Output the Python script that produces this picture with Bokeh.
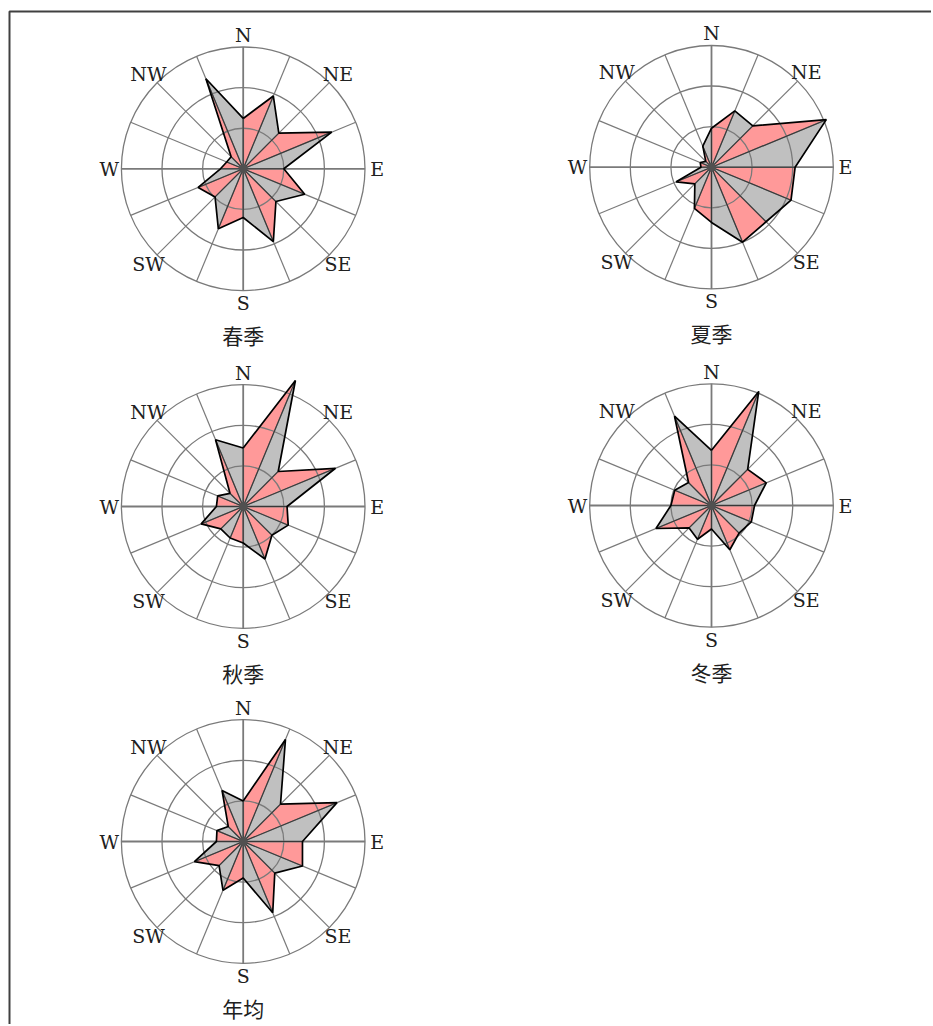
import numpy as np
from bokeh.plotting import figure
from bokeh.models import Range1d
from bokeh.embed import file_html
from bokeh.resources import INLINE
from bokeh.core.properties import value

# ---------------- data (wind direction frequency, %) ----------------
directions = ["N", "NNE", "NE", "ENE", "E", "ESE", "SE", "SSE",
              "S", "SSW", "SW", "WSW", "W", "WNW", "NW", "NNW"]
spring = [6.2, 9.7, 6.2, 11.8, 5.0, 8.2, 5.7, 9.7, 6.0, 8.0, 4.9, 6.0, 2.8, 2.2, 2.1, 12.0]
summer = [4.8, 7.5, 7.2, 15.3, 10.3, 10.6, 9.5, 10.0, 6.8, 5.5, 2.9, 4.7, 1.3, 1.5, 1.0, 2.8]
autumn = [7.2, 16.8, 6.1, 12.3, 5.4, 6.0, 5.0, 7.0, 4.5, 4.2, 3.9, 5.6, 3.3, 3.4, 2.3, 8.9]
winter = [6.8, 15.2, 6.3, 7.3, 5.3, 5.3, 4.8, 5.9, 2.9, 4.5, 3.9, 7.4, 5.0, 4.9, 4.0, 11.9]
annual = [5.0, 13.6, 6.5, 12.5, 7.3, 7.9, 5.5, 9.5, 4.5, 6.5, 4.2, 6.5, 3.3, 3.5, 2.6, 6.8]
titles = ["春季", "夏季", "秋季", "冬季", "年均"]
ring_levels = [5, 10, 15]
compass_labels = ["N", "NE", "E", "SE", "S", "SW", "W", "NW"]

# ---------------- layout ----------------
W, H = 931, 1024
PX_PER_UNIT = 8.12          # pixels per 1 % frequency
# centres in data coords (x right, y up); page origin at top-left
centers = [(242.7, H - 168.3), (711.0, H - 166.7), (242.7, H - 506.0),
           (711.0, H - 505.0), (242.7, H - 841.0)]
series = [spring, summer, autumn, winter, annual]

PINK = "#FF9999"
GRAY = "#C0C0C0"
GRID = "#7a7a7a"

p = figure(width=W, height=H, output_backend="svg", toolbar_location=None,
           x_range=Range1d(0, W), y_range=Range1d(0, H), min_border=0)
p.axis.visible = False
p.grid.visible = False
p.outline_line_color = None
p.background_fill_color = "white"
p.border_fill_color = "white"

theta = np.deg2rad(np.arange(16) * 22.5)
outer = ring_levels[-1] * PX_PER_UNIT

for (cx, cy), vals, title in zip(centers, series, titles):
    r = np.array(vals) * PX_PER_UNIT
    px = cx + r * np.sin(theta)
    py = cy + r * np.cos(theta)
    # alternating triangles
    xs, ys, cols = [], [], []
    for i in range(16):
        j = (i + 1) % 16
        xs.append([cx, px[i], px[j]])
        ys.append([cy, py[i], py[j]])
        cols.append(PINK if i % 2 == 0 else GRAY)
    p.patches(xs, ys, fill_color=cols, line_color=None)

    # grid rings
    p.circle(x=[cx] * len(ring_levels), y=[cy] * len(ring_levels),
             radius=[lv * PX_PER_UNIT for lv in ring_levels],
             fill_color=None, line_color=GRID, line_width=1.3)
    # spokes
    sx = [[cx, cx + outer * np.sin(t)] for t in theta]
    sy = [[cy, cy + outer * np.cos(t)] for t in theta]
    lw = [1.8 if k % 4 == 0 else 1.2 for k in range(16)]
    p.multi_line(sx, sy, line_color=GRID, line_width=lw)

    # triangle edges
    p.multi_line([[cx, px[i]] for i in range(16)], [[cy, py[i]] for i in range(16)],
                 line_color="#383838", line_width=1.1)
    # outline
    p.line(list(px) + [px[0]], list(py) + [py[0]], line_color="black", line_width=1.7)
    # calm dot
    p.circle(x=[cx], y=[cy], radius=4.5, fill_color="#505050", line_color=None)

    # compass labels
    lr = 134
    la = np.deg2rad(np.arange(8) * 45)
    p.text(x=list(cx + lr * np.sin(la)), y=list(cy + lr * np.cos(la)), text=compass_labels,
           text_align="center", text_baseline="middle", text_font=value("DejaVu Serif"),
           text_font_size="19px", text_color="#202020")
    p.text(x=[cx], y=[cy - 166], text=[title], text_align="center", text_baseline="middle",
           text_font=value("Noto Sans CJK SC"), text_font_size="21px", text_color="#202020")

# frame border (left & top)
p.line([9, 9, 945], [-20, H - 11, H - 11], line_color="#404040", line_width=2)

open("out.html", "w").write(file_html(p, INLINE))
